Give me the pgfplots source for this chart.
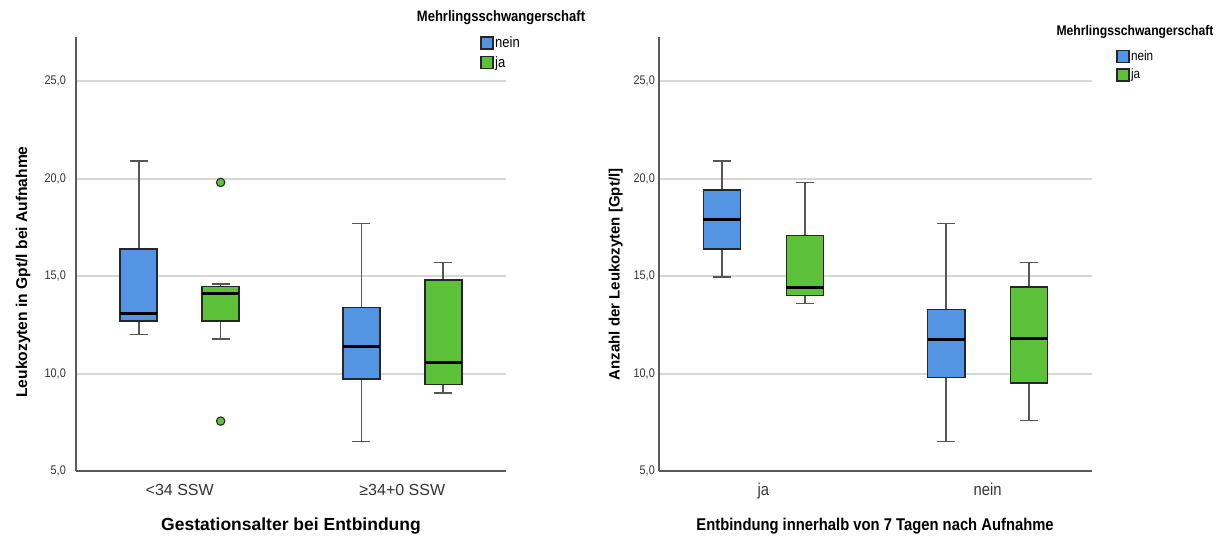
\documentclass[border=0pt]{standalone}
\usepackage{fontspec}
\setmainfont{Liberation Sans}
\newfontfamily\narrowfont[FakeStretch=0.87]{Liberation Sans}
\usepackage{pgfplots}
\pgfplotsset{compat=1.18}

\definecolor{boxblue}{HTML}{5495E3}
\definecolor{boxgreen}{HTML}{5EC13A}
\definecolor{edge}{HTML}{262626}
\definecolor{whisk}{HTML}{555555}
\definecolor{gridgray}{HTML}{D6D6D6}
\definecolor{axisgray}{HTML}{5A5A5A}
\definecolor{ticktext}{HTML}{333333}

\pgfplotsset{
  spssbox/.style={
    scale only axis, width=430pt, height=434pt,
    xmin=0.534, xmax=2.466, ymin=5, ymax=27.26,
    axis x line*=bottom, axis y line*=left,
    axis line style={draw=axisgray, line width=1.2pt, -},
    major tick length=0pt,
    ytick={5,10,15,20,25},
    ymajorgrids, grid style={draw=gridgray, line width=2pt},
    xtick={1,2},
    yticklabel style={font=\narrowfont\fontsize{12.5}{12.5}\selectfont, text=ticktext,
      anchor=east, inner sep=0pt,
      /pgf/number format/fixed, /pgf/number format/fixed zerofill,
      /pgf/number format/precision=1, /pgf/number format/use comma,
      /pgf/number format/assume math mode=true},
    xticklabel style={anchor=base, yshift=-24pt, inner sep=0pt, text=ticktext},
    legend style={draw=none, fill=none, inner sep=0pt, row sep=4pt,
      nodes={inner sep=1.5pt}, cells={anchor=west}, anchor=north west},
  },
}

% one box-and-whisker group: position, lower whisker, lower quartile,
% median, upper quartile, upper whisker, fill colour
\newcommand\spssboxplot[7]{%
  \pgfmathsetmacro\bxl{#1-0.083}\pgfmathsetmacro\bxr{#1+0.083}%
  \pgfmathsetmacro\cpl{#1-0.0405}\pgfmathsetmacro\cpr{#1+0.0405}%
  \addplot[forget plot, draw=whisk, line width=1.6pt] coordinates {(#1,#2) (#1,#3)};
  \addplot[forget plot, draw=whisk, line width=1.6pt] coordinates {(#1,#5) (#1,#6)};
  \addplot[forget plot, draw=whisk, line width=1.6pt] coordinates {(\cpl,#2) (\cpr,#2)};
  \addplot[forget plot, draw=whisk, line width=1.6pt] coordinates {(\cpl,#6) (\cpr,#6)};
  \addplot[forget plot, fill=#7, draw=edge, line width=1.6pt]
    coordinates {(\bxl,#3) (\bxr,#3) (\bxr,#5) (\bxl,#5)} -- cycle;
  \addplot[forget plot, draw=black, line width=3pt] coordinates {(\bxl,#4) (\bxr,#4)};
}

\newcommand\swatch[1]{\addlegendimage{legend image code/.code={%
  \draw[fill=#1, draw=edge, line width=1.5pt] (0pt,-6pt) rectangle (12pt,6pt);}}}

\begin{document}
\begin{tikzpicture}
\useasboundingbox (0pt,0pt) rectangle (1223pt,536pt);

% ---- Leukozyten nach Gestationsalter ----
\begin{axis}[spssbox, at={(76pt,65pt)}, anchor=south west,
  xticklabels={{<34 SSW},{≥34+0 SSW}},
  xticklabel style={font=\fontsize{16}{16}\selectfont},
  yticklabel style={xshift=-10pt},
  xlabel={Gestationsalter bei Entbindung},
  xlabel style={at={(axis description cs:0.5,-0.136)}, anchor=base,
    font=\bfseries\fontsize{17.5}{17.5}\selectfont},
  ylabel={Leukozyten in Gpt/l bei Aufnahme},
  ylabel style={at={(axis description cs:-0.123,0.4585)}, anchor=center,
    font=\bfseries\fontsize{15.6}{15.6}\selectfont},
  legend style={at={(axis description cs:0.9395,1.004)},
    font=\narrowfont\fontsize{15}{15}\selectfont},
]
\swatch{boxblue}\addlegendentry{nein}
\swatch{boxgreen}\addlegendentry{ja}
% <34 SSW
\spssboxplot{0.816}{12.0}{12.68}{13.09}{16.4}{20.9}{boxblue}
\spssboxplot{1.184}{11.77}{12.68}{14.08}{14.47}{14.58}{boxgreen}
\addplot[forget plot, only marks, mark=*, mark size=4.2pt,
  mark options={fill=boxgreen, draw=edge, line width=1.1pt}]
  coordinates {(1.184,19.8) (1.184,7.56)};
% >=34+0 SSW
\spssboxplot{1.816}{6.51}{9.71}{11.39}{13.39}{17.70}{boxblue}
\spssboxplot{2.184}{9.0}{9.43}{10.55}{14.8}{15.70}{boxgreen}
\end{axis}
\node[font=\narrowfont\bfseries\fontsize{15}{15}\selectfont, anchor=center] at (501pt,518pt) {Mehrlingsschwangerschaft};

% ---- Leukozyten nach Entbindung innerhalb von 7 Tagen ----
\begin{axis}[spssbox, at={(659pt,65pt)}, anchor=south west, width=433pt,
  xticklabels={ja,nein},
  xticklabel style={font=\narrowfont\fontsize{17}{17}\selectfont},
  yticklabel style={xshift=-4pt},
  xlabel={Entbindung innerhalb von 7 Tagen nach Aufnahme},
  xlabel style={at={(axis description cs:0.499,-0.136)}, anchor=base,
    font=\narrowfont\bfseries\fontsize{17}{17}\selectfont},
  ylabel={Anzahl der Leukozyten [Gpt/l]},
  ylabel style={at={(axis description cs:-0.1,0.453)}, anchor=center,
    font=\bfseries\fontsize{15}{15}\selectfont},
  legend style={at={(axis description cs:1.055,0.972)},
    font=\narrowfont\fontsize{13.5}{13.5}\selectfont},
]
\swatch{boxblue}\addlegendentry{nein}
\swatch{boxgreen}\addlegendentry{ja}
% ja
\spssboxplot{0.815}{14.95}{16.4}{17.89}{19.4}{20.9}{boxblue}
\spssboxplot{1.185}{13.59}{14.01}{14.40}{17.07}{19.8}{boxgreen}
% nein
\spssboxplot{1.815}{6.51}{9.80}{11.75}{13.29}{17.70}{boxblue}
\spssboxplot{2.185}{7.59}{9.51}{11.80}{14.44}{15.70}{boxgreen}
\end{axis}
\node[font=\narrowfont\bfseries\fontsize{14}{14}\selectfont, anchor=center] at (1135pt,504pt) {Mehrlingsschwangerschaft};
\end{tikzpicture}
\end{document}
